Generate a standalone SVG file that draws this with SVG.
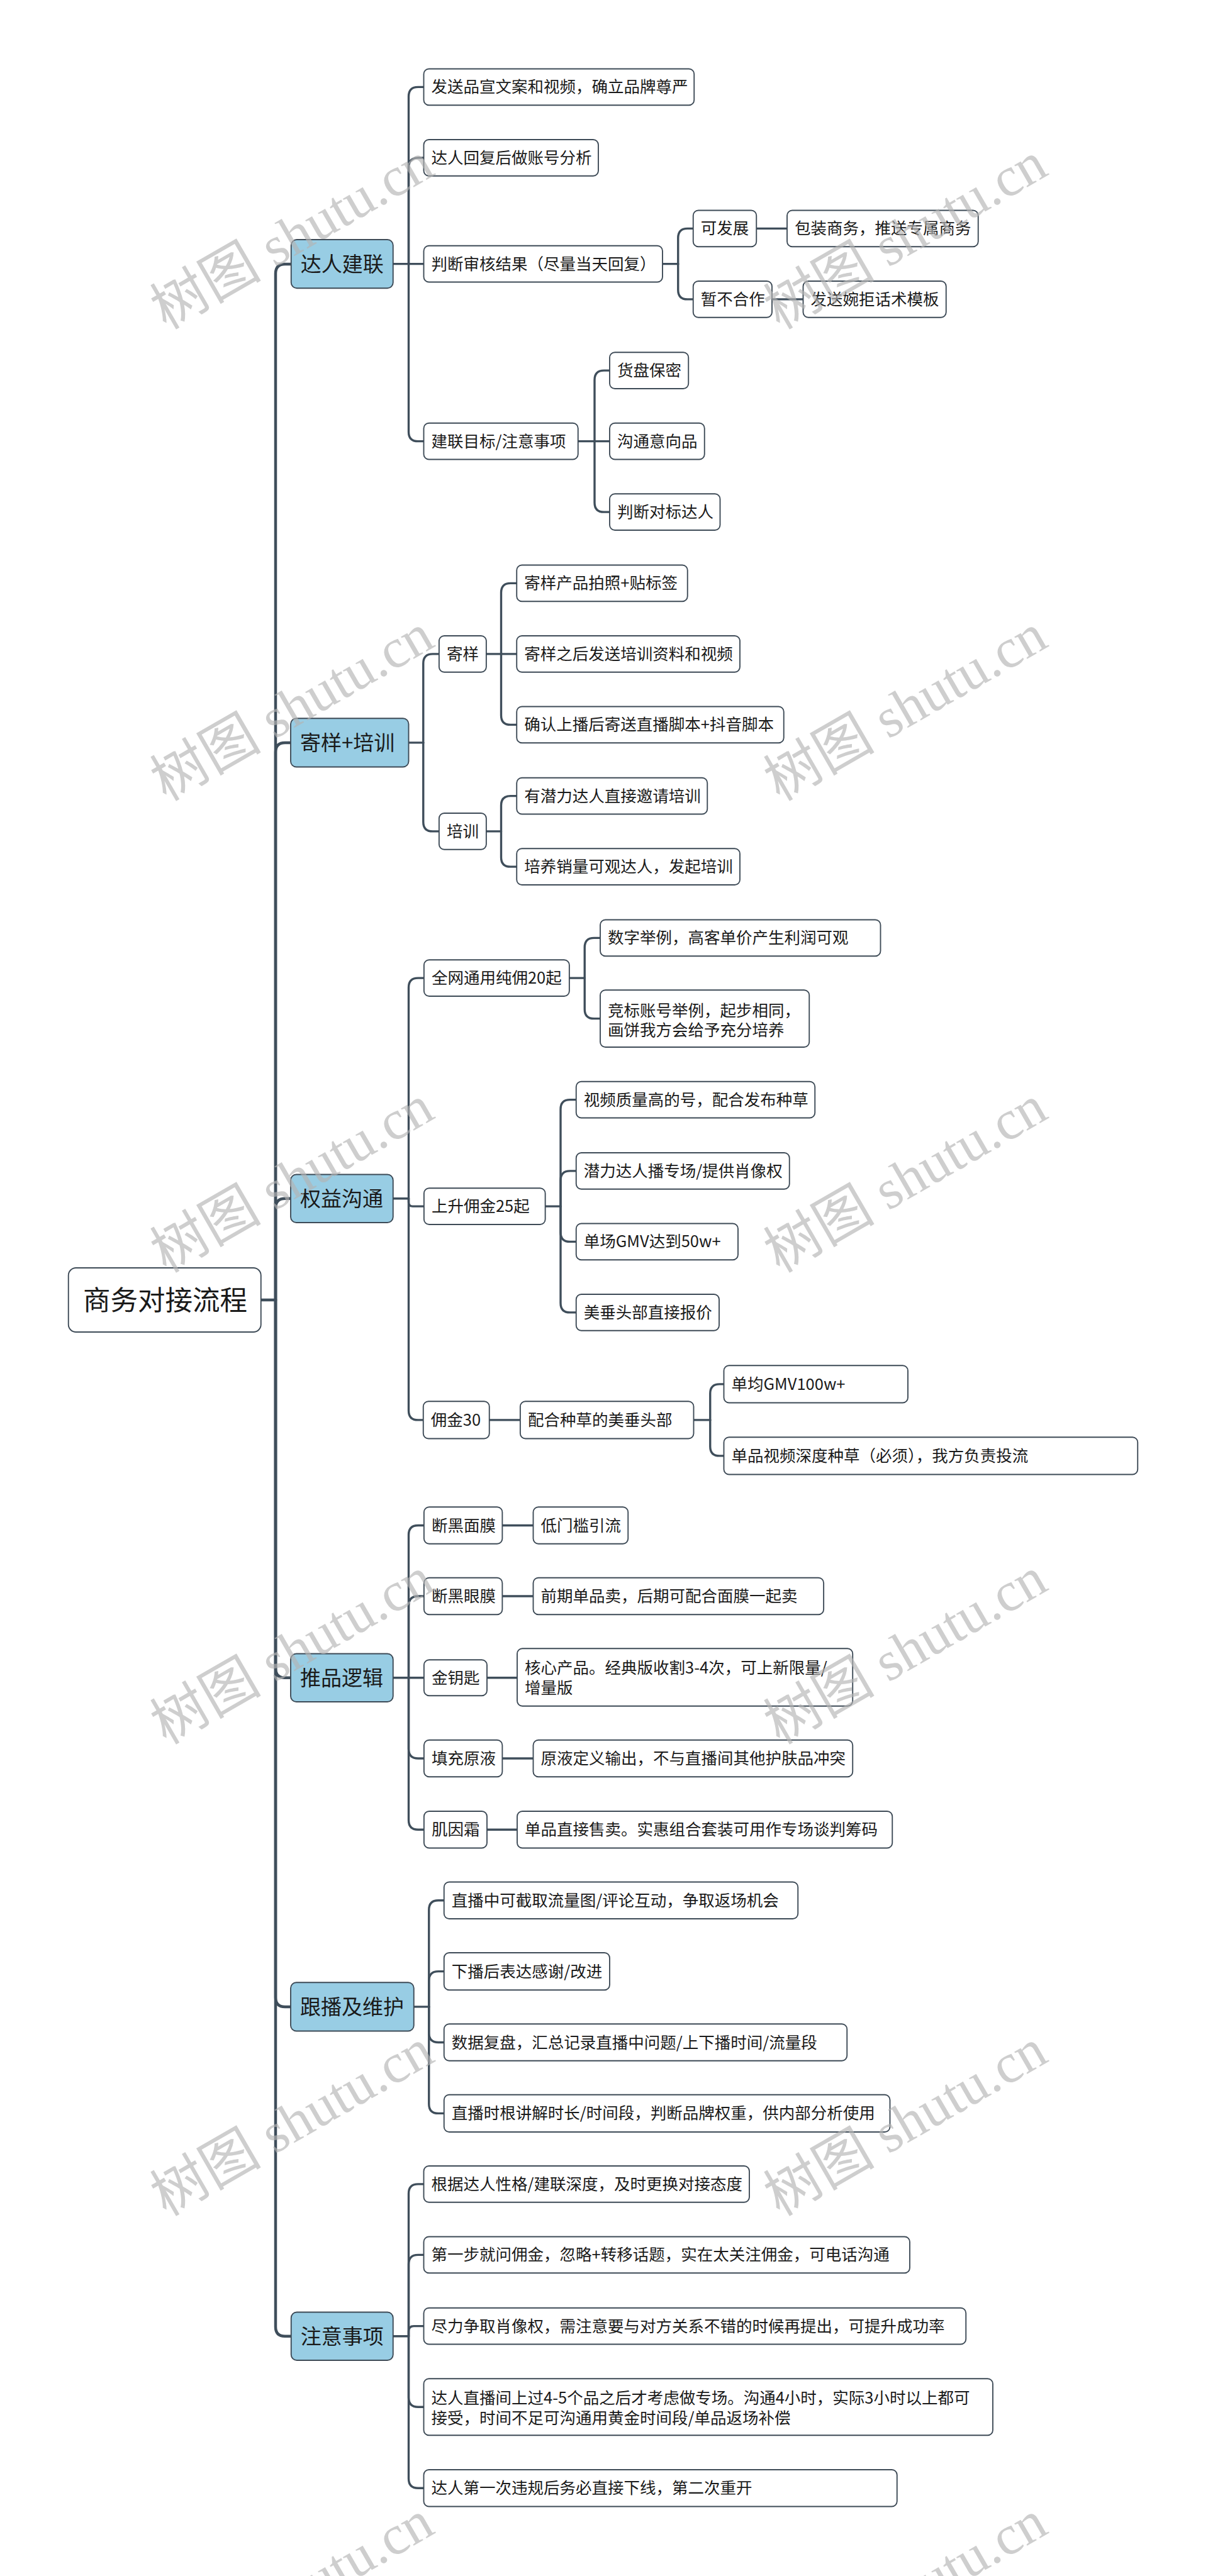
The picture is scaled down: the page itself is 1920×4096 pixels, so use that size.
<svg xmlns="http://www.w3.org/2000/svg" width="1920" height="4096" viewBox="0 0 1920 4096">
<style>
.n rect{fill:#fff;stroke:#3d4a56;stroke-width:2.5}
.l1 rect{fill:#98cde4}
text{font-family:"Noto Sans CJK SC","Liberation Sans",sans-serif;fill:#1a1a1a}
.t{font-size:34px}
.t1{font-size:44px}
.t0{font-size:58px}
.c path{fill:none;stroke:#3f4e5b;stroke-width:4.5;stroke-linecap:round;stroke-linejoin:round}
.c path.m{stroke-width:6}
.wm text{font-family:"Liberation Serif","Noto Sans CJK SC",serif;font-size:118px;fill:#b4b4b4;opacity:0.65}
</style>
<rect width="1920" height="4096" fill="#fff"/>
<g transform="scale(0.75)">
<g id="connectors" class="c">
<path class="m" d="M553 2756 H584"/>
<path class="m" d="M584 2756 V580 Q584 560 604 560 H617"/>
<path class="m" d="M584 2756 V1594.5 Q584 1574.5 604 1574.5 H616"/>
<path class="m" d="M584 2756 V2561 Q584 2541 604 2541 H616"/>
<path class="m" d="M584 2756 V3537 Q584 3557 604 3557 H616"/>
<path class="m" d="M584 2756 V4234.5 Q584 4254.5 604 4254.5 H616"/>
<path class="m" d="M584 2756 V4933 Q584 4953 604 4953 H617"/>

<path d="M833 559.5 H898"/>
<path d="M866 559.5 V204.5 Q866 184.5 886 184.5 H898"/>
<path d="M866 559.5 V354.5 Q866 334.5 886 334.5 H898"/>
<path d="M866 559.5 V915.5 Q866 935.5 886 935.5 H898"/>
<path d="M1404 559.5 H1437"/>
<path d="M1437 559.5 V504.5 Q1437 484.5 1457 484.5 H1469"/>
<path d="M1437 559.5 V614.5 Q1437 634.5 1457 634.5 H1469"/>
<path d="M1603 484.5 H1668"/>
<path d="M1636 634.5 H1702"/>
<path d="M1225 935.5 H1292"/>
<path d="M1260 935.5 V805.5 Q1260 785.5 1280 785.5 H1292"/>
<path d="M1260 935.5 V1065.5 Q1260 1085.5 1280 1085.5 H1292"/>

<path d="M866 1574.5 H897"/>
<path d="M897 1574.5 V1406.5 Q897 1386.5 917 1386.5 H930.5"/>
<path d="M897 1574.5 V1742.5 Q897 1762.5 917 1762.5 H930.5"/>
<path d="M1030.5 1386.5 H1095"/>
<path d="M1062 1386.5 V1256.5 Q1062 1236.5 1082 1236.5 H1095"/>
<path d="M1062 1386.5 V1516.5 Q1062 1536.5 1082 1536.5 H1095"/>
<path d="M1030.5 1762.5 H1062"/>
<path d="M1062 1762.5 V1707.5 Q1062 1687.5 1082 1687.5 H1095"/>
<path d="M1062 1762.5 V1817.5 Q1062 1837.5 1082 1837.5 H1095"/>

<path d="M833 2541 H866"/>
<path d="M866 2541 V2093.5 Q866 2073.5 886 2073.5 H898.5"/>
<path d="M866 2541 V2549 Q866 2557.5 874.5 2557.5 H898.5"/>
<path d="M866 2541 V2990.5 Q866 3010.5 886 3010.5 H897"/>
<path d="M1206.5 2073.5 H1239"/>
<path d="M1239 2073.5 V2008.5 Q1239 1988.5 1259 1988.5 H1272"/>
<path d="M1239 2073.5 V2139.5 Q1239 2159.5 1259 2159.5 H1272"/>
<path d="M1155.5 2557.5 H1188"/>
<path d="M1188 2557.5 V2351.5 Q1188 2331.5 1208 2331.5 H1221"/>
<path d="M1188 2557.5 V2502.5 Q1188 2482.5 1208 2482.5 H1221"/>
<path d="M1188 2557.5 V2612.5 Q1188 2632.5 1208 2632.5 H1221"/>
<path d="M1188 2557.5 V2762.5 Q1188 2782.5 1208 2782.5 H1221"/>
<path d="M1037 3010.5 H1102.5"/>
<path d="M1470 3010.5 H1505"/>
<path d="M1505 3010.5 V2954.5 Q1505 2934.5 1525 2934.5 H1534"/>
<path d="M1505 3010.5 V3066.5 Q1505 3086.5 1525 3086.5 H1534"/>

<path d="M833 3557 H898.5"/>
<path d="M866 3557 V3254 Q866 3234 886 3234 H898.5"/>
<path d="M866 3557 V3404 Q866 3384 886 3384 H898.5"/>
<path d="M866 3557 V3708 Q866 3728 886 3728 H898.5"/>
<path d="M866 3557 V3859 Q866 3879 886 3879 H898.5"/>
<path d="M1064.5 3234 H1130"/>
<path d="M1064.5 3384 H1130"/>
<path d="M1032 3557 H1096"/>
<path d="M1064.5 3728 H1130"/>
<path d="M1032 3879 H1096"/>

<path d="M877 4254.5 H909"/>
<path d="M909 4254.5 V4049 Q909 4029 929 4029 H941"/>
<path d="M909 4254.5 V4199.5 Q909 4179.5 929 4179.5 H941"/>
<path d="M909 4254.5 V4310 Q909 4330 929 4330 H941"/>
<path d="M909 4254.5 V4460.5 Q909 4480.5 929 4480.5 H941"/>

<path d="M833 4953 H866"/>
<path d="M866 4953 V4650.5 Q866 4630.5 886 4630.5 H898"/>
<path d="M866 4953 V4800.5 Q866 4780.5 886 4780.5 H898"/>
<path d="M866 4953 V4942.5 Q866 4931.5 877 4931.5 H898"/>
<path d="M866 4953 V5083 Q866 5103 886 5103 H898"/>
<path d="M866 4953 V5255 Q866 5275 886 5275 H898"/>
</g>

<g id="root" class="n"><rect x="145" y="2688" width="408" height="136" rx="16"/><text class="t0" x="176" y="2777">商务对接流程</text></g>

<g id="n1" class="n l1"><rect x="617" y="508" width="216" height="103" rx="12"/><text class="t1" x="637" y="575.5">达人建联</text></g>
<g id="n1a" class="n"><rect x="898" y="146" width="573" height="77" rx="11"/><text class="t" x="914" y="196.5">发送品宣文案和视频，确立品牌尊严</text></g>
<g id="n1b" class="n"><rect x="898" y="296" width="370" height="77" rx="11"/><text class="t" x="914" y="346.5">达人回复后做账号分析</text></g>
<g id="n1c" class="n"><rect x="898" y="521" width="506" height="77" rx="11"/><text class="t" x="914" y="571.5">判断审核结果（尽量当天回复）</text></g>
<g id="n1c1" class="n"><rect x="1469" y="446" width="134" height="77" rx="11"/><text class="t" x="1485" y="496.5">可发展</text></g>
<g id="n1c1a" class="n"><rect x="1668" y="446" width="405" height="77" rx="11"/><text class="t" x="1684" y="496.5">包装商务，推送专属商务</text></g>
<g id="n1c2" class="n"><rect x="1469" y="596" width="167" height="77" rx="11"/><text class="t" x="1485" y="646.5">暂不合作</text></g>
<g id="n1c2a" class="n"><rect x="1702" y="596" width="303" height="77" rx="11"/><text class="t" x="1718" y="646.5">发送婉拒话术模板</text></g>
<g id="n1d" class="n"><rect x="898" y="897" width="327" height="77" rx="11"/><text class="t" x="914" y="947.5">建联目标/注意事项</text></g>
<g id="n1d1" class="n"><rect x="1292" y="747" width="167" height="77" rx="11"/><text class="t" x="1308" y="797.5">货盘保密</text></g>
<g id="n1d2" class="n"><rect x="1292" y="897" width="201" height="77" rx="11"/><text class="t" x="1308" y="947.5">沟通意向品</text></g>
<g id="n1d3" class="n"><rect x="1292" y="1047" width="234" height="77" rx="11"/><text class="t" x="1308" y="1097.5">判断对标达人</text></g>

<g id="n2" class="n l1"><rect x="616" y="1523" width="250" height="103" rx="12"/><text class="t1" x="636" y="1590.5">寄样+培训</text></g>
<g id="n2a" class="n"><rect x="930.5" y="1348" width="100" height="77" rx="11"/><text class="t" x="946.5" y="1398.5">寄样</text></g>
<g id="n2a1" class="n"><rect x="1095" y="1198" width="362" height="77" rx="11"/><text class="t" x="1111" y="1248.5">寄样产品拍照+贴标签</text></g>
<g id="n2a2" class="n"><rect x="1095" y="1348" width="473" height="77" rx="11"/><text class="t" x="1111" y="1398.5">寄样之后发送培训资料和视频</text></g>
<g id="n2a3" class="n"><rect x="1095" y="1498" width="566" height="77" rx="11"/><text class="t" x="1111" y="1548.5">确认上播后寄送直播脚本+抖音脚本</text></g>
<g id="n2b" class="n"><rect x="930.5" y="1724" width="100" height="77" rx="11"/><text class="t" x="946.5" y="1774.5">培训</text></g>
<g id="n2b1" class="n"><rect x="1095" y="1649" width="404" height="77" rx="11"/><text class="t" x="1111" y="1699.5">有潜力达人直接邀请培训</text></g>
<g id="n2b2" class="n"><rect x="1095" y="1799" width="473" height="77" rx="11"/><text class="t" x="1111" y="1849.5">培养销量可观达人，发起培训</text></g>

<g id="n3" class="n l1"><rect x="616" y="2490" width="217" height="102" rx="12"/><text class="t1" x="636" y="2557">权益沟通</text></g>
<g id="n3a" class="n"><rect x="898.5" y="2035" width="308" height="77" rx="11"/><text class="t" x="914.5" y="2085.5">全网通用纯佣20起</text></g>
<g id="n3a1" class="n"><rect x="1272" y="1950" width="594" height="77" rx="11"/><text class="t" x="1288" y="2000.5">数字举例，高客单价产生利润可观</text></g>
<g id="n3a2" class="n"><rect x="1272" y="2099" width="443" height="121" rx="11"/><text class="t" x="1288" y="2154">竞标账号举例，起步相同，</text><text class="t" x="1288" y="2196">画饼我方会给予充分培养</text></g>
<g id="n3b" class="n"><rect x="898.5" y="2519" width="257" height="77" rx="11"/><text class="t" x="914.5" y="2569.5">上升佣金25起</text></g>
<g id="n3b1" class="n"><rect x="1221" y="2293" width="506" height="77" rx="11"/><text class="t" x="1237" y="2343.5">视频质量高的号，配合发布种草</text></g>
<g id="n3b2" class="n"><rect x="1221" y="2444" width="452" height="77" rx="11"/><text class="t" x="1237" y="2494.5">潜力达人播专场/提供肖像权</text></g>
<g id="n3b3" class="n"><rect x="1221" y="2594" width="343" height="77" rx="11"/><text class="t" x="1237" y="2644.5">单场GMV达到50w+</text></g>
<g id="n3b4" class="n"><rect x="1221" y="2744" width="303" height="77" rx="11"/><text class="t" x="1237" y="2794.5">美垂头部直接报价</text></g>
<g id="n3c" class="n"><rect x="897" y="2971" width="140" height="79" rx="11"/><text class="t" x="913" y="3022.5">佣金30</text></g>
<g id="n3c1" class="n"><rect x="1102.5" y="2971" width="367.5" height="79" rx="11"/><text class="t" x="1118.5" y="3022.5">配合种草的美垂头部</text></g>
<g id="n3c1a" class="n"><rect x="1534" y="2895" width="390" height="79" rx="11"/><text class="t" x="1550" y="2946.5">单均GMV100w+</text></g>
<g id="n3c1b" class="n"><rect x="1534" y="3047" width="877" height="79" rx="11"/><text class="t" x="1550" y="3098.5">单品视频深度种草（必须），我方负责投流</text></g>

<g id="n4" class="n l1"><rect x="616" y="3506" width="217" height="102" rx="12"/><text class="t1" x="636" y="3573">推品逻辑</text></g>
<g id="n4a" class="n"><rect x="898.5" y="3195" width="166" height="78" rx="11"/><text class="t" x="914.5" y="3246">断黑面膜</text></g>
<g id="n4a1" class="n"><rect x="1130" y="3195" width="201" height="78" rx="11"/><text class="t" x="1146" y="3246">低门槛引流</text></g>
<g id="n4b" class="n"><rect x="898.5" y="3345" width="166" height="78" rx="11"/><text class="t" x="914.5" y="3396">断黑眼膜</text></g>
<g id="n4b1" class="n"><rect x="1130" y="3345" width="615.5" height="78" rx="11"/><text class="t" x="1146" y="3396">前期单品卖，后期可配合面膜一起卖</text></g>
<g id="n4c" class="n"><rect x="898.5" y="3519" width="133.5" height="76" rx="11"/><text class="t" x="914.5" y="3569">金钥匙</text></g>
<g id="n4c1" class="n"><rect x="1096" y="3495" width="711" height="122" rx="11"/><text class="t" x="1112" y="3548">核心产品。经典版收割3-4次，可上新限量/</text><text class="t" x="1112" y="3590">增量版</text></g>
<g id="n4d" class="n"><rect x="898.5" y="3689" width="166" height="78" rx="11"/><text class="t" x="914.5" y="3740">填充原液</text></g>
<g id="n4d1" class="n"><rect x="1130" y="3689" width="677" height="78" rx="11"/><text class="t" x="1146" y="3740">原液定义输出，不与直播间其他护肤品冲突</text></g>
<g id="n4e" class="n"><rect x="898.5" y="3840" width="133.5" height="78" rx="11"/><text class="t" x="914.5" y="3891">肌因霜</text></g>
<g id="n4e1" class="n"><rect x="1096" y="3840" width="795" height="78" rx="11"/><text class="t" x="1112" y="3891">单品直接售卖。实惠组合套装可用作专场谈判筹码</text></g>

<g id="n5" class="n l1"><rect x="616" y="4203" width="261" height="103" rx="12"/><text class="t1" x="636" y="4270.5">跟播及维护</text></g>
<g id="n5a" class="n"><rect x="941" y="3990" width="750" height="78" rx="11"/><text class="t" x="957" y="4041">直播中可截取流量图/评论互动，争取返场机会</text></g>
<g id="n5b" class="n"><rect x="941" y="4140" width="351" height="79" rx="11"/><text class="t" x="957" y="4191.5">下播后表达感谢/改进</text></g>
<g id="n5c" class="n"><rect x="941" y="4291" width="854" height="78" rx="11"/><text class="t" x="957" y="4342">数据复盘，汇总记录直播中问题/上下播时间/流量段</text></g>
<g id="n5d" class="n"><rect x="941" y="4441" width="945" height="79" rx="11"/><text class="t" x="957" y="4492.5">直播时根讲解时长/时间段，判断品牌权重，供内部分析使用</text></g>

<g id="n6" class="n l1"><rect x="617" y="4902" width="216" height="102" rx="12"/><text class="t1" x="637" y="4969">注意事项</text></g>
<g id="n6a" class="n"><rect x="898" y="4592" width="690" height="77" rx="11"/><text class="t" x="914" y="4642.5">根据达人性格/建联深度，及时更换对接态度</text></g>
<g id="n6b" class="n"><rect x="898" y="4742" width="1030" height="77" rx="11"/><text class="t" x="914" y="4792.5">第一步就问佣金，忽略+转移话题，实在太关注佣金，可电话沟通</text></g>
<g id="n6c" class="n"><rect x="898" y="4893" width="1149" height="77" rx="11"/><text class="t" x="914" y="4943.5">尽力争取肖像权，需注意要与对方关系不错的时候再提出，可提升成功率</text></g>
<g id="n6d" class="n"><rect x="898" y="5043" width="1206" height="120" rx="11"/><text class="t" x="914" y="5096">达人直播间上过4-5个品之后才考虑做专场。沟通4小时，实际3小时以上都可</text><text class="t" x="914" y="5138">接受，时间不足可沟通用黄金时间段/单品返场补偿</text></g>
<g id="n6e" class="n"><rect x="898" y="5236" width="1003" height="78" rx="11"/><text class="t" x="914" y="5287">达人第一次违规后务必直接下线，第二次重开</text></g>

<g id="watermarks" class="wm">
<text x="352" y="700" transform="rotate(-30 352 700)">树图 shutu.cn</text>
<text x="1652" y="700" transform="rotate(-30 1652 700)">树图 shutu.cn</text>
<text x="352" y="1700" transform="rotate(-30 352 1700)">树图 shutu.cn</text>
<text x="1652" y="1700" transform="rotate(-30 1652 1700)">树图 shutu.cn</text>
<text x="352" y="2700" transform="rotate(-30 352 2700)">树图 shutu.cn</text>
<text x="1652" y="2700" transform="rotate(-30 1652 2700)">树图 shutu.cn</text>
<text x="352" y="3700" transform="rotate(-30 352 3700)">树图 shutu.cn</text>
<text x="1652" y="3700" transform="rotate(-30 1652 3700)">树图 shutu.cn</text>
<text x="352" y="4700" transform="rotate(-30 352 4700)">树图 shutu.cn</text>
<text x="1652" y="4700" transform="rotate(-30 1652 4700)">树图 shutu.cn</text>
<text x="352" y="5700" transform="rotate(-30 352 5700)">树图 shutu.cn</text>
<text x="1652" y="5700" transform="rotate(-30 1652 5700)">树图 shutu.cn</text>
</g>
</g>
</svg>
